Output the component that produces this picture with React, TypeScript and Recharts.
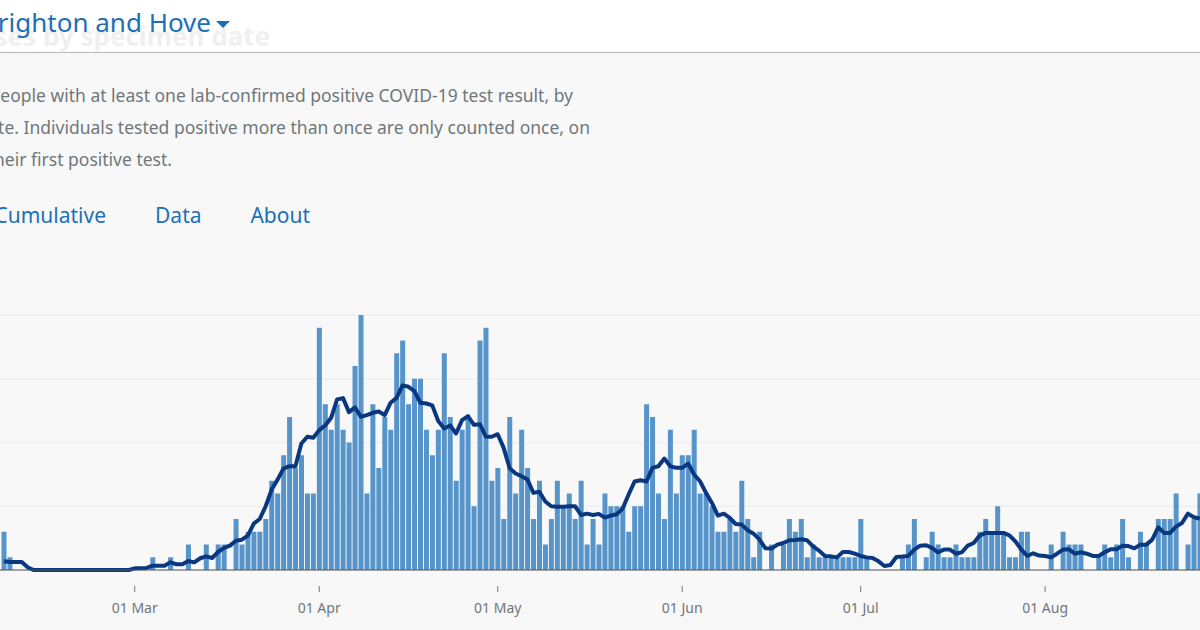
import { Bar, CartesianGrid, ComposedChart, Line, XAxis, YAxis } from "recharts";

// 6 Feb to 28 Aug 2020, one label per day
const monthNames = ["Feb", "Mar", "Apr", "May", "Jun", "Jul", "Aug"];
const monthLengths = [29, 31, 30, 31, 30, 31, 28];
const dayLabels: string[] = [];
monthNames.forEach((name, m) => {
  for (let day = m === 0 ? 6 : 1; day <= monthLengths[m]; day++) {
    dayLabels.push(`${String(day).padStart(2, "0")} ${name}`);
  }
});

const tickLabels = ["01 Mar", "01 Apr", "01 May", "01 Jun", "01 Jul", "01 Aug"];
const gridValues = [0, 5, 10, 15, 20];

const dailyCases = [
  null, null,
  // Feb
  3, 1, 0, 0, 0, 0, 0, 0, 0, 0, 0, 0, 0, 0, 0, 0, 0, 0, 0, 0, 0, 0,
  // Mar
  0, 0, 0, 1, 0, 0, 1, 0, 0, 2, 0, 0, 2, 0, 2, 2, 0, 4, 2, 3, 3, 3, 4, 7, 6, 9, 12, 8, 9, 6, 6,
  // Apr
  19, 13, 11, 13, 11, 10, 16, 20, 6, 13, 8, 12, 11, 17, 18, 13, 15, 15, 11, 9, 11, 17, 12, 7, 11, 12, 5, 18, 19, 7,
  // May
  8, 4, 12, 6, 11, 8, 4, 7, 2, 4, 7, 5, 6, 4, 7, 2, 4, 2, 6, 5, 5, 5, 3, 5, 5, 13, 12, 6, 4, 11, 6,
  // Jun
  9, 9, 11, 6, 6, 5, 3, 3, 4, 3, 7, 4, 1, 3, 0, 2, 0, 2, 4, 3, 4, 1, 2, 1, 1, 1, 1, 1, 1, 1,
  // Jul
  4, 1, 0, 0, 0, 0, 0, 1, 2, 4, 0, 1, 3, 2, 1, 1, 2, 1, 1, 1, 3, 4, 3, 5, 3, 1, 1, 3, 3, 0, 0,
  // Aug
  0, 2, 0, 3, 2, 2, 2, 0, 0, 1, 2, 1, 2, 4, 1, 0, 3, 2, 0, 4, 4, 4, 6, 0, 2, 4, 6,
  null,
];

const rollingAverage = [
  null, null,
  // Feb
  0.68, 0.63, 0.63, 0.63, 0.21, 0, 0, 0, 0, 0, 0, 0, 0, 0, 0, 0, 0, 0, 0, 0, 0, 0,
  // Mar
  0.13, 0.13, 0.16, 0.34, 0.34, 0.34, 0.6, 0.45, 0.45, 0.71, 0.6, 0.92, 1.07, 0.94, 1.41, 1.73, 1.91, 2.3, 2.38, 2.7,
  3.64, 4.0, 5.0, 6.31, 7.09, 7.96, 8.14, 8.14, 9.92, 10.45, 10.37,
  // Apr
  10.97, 11.34, 11.94, 13.38, 13.48, 12.38, 12.75, 12.02, 12.15, 12.33, 12.43, 12.15, 13.12, 13.5, 14.48, 14.37,
  14.03, 13.12, 13.06, 12.91, 11.68, 11.1, 11.34, 10.71, 11.75, 12.07, 11.39, 11.44, 10.45, 10.45,
  // May
  10.65, 9.58, 7.98, 7.57, 7.36, 7.09, 6.05, 6.13, 5.37, 5, 4.97, 4.97, 5, 5, 4.32, 4.42, 4.32, 4.4, 4.11, 4.27, 4.37,
  4.82, 5.92, 6.94, 7.04, 6.94, 8.01, 8.14, 8.74, 8.14, 8.01,
  // Jun
  8.01, 8.35, 7.49, 6.96, 6.05, 5.26, 4.27, 4.42, 4.08, 3.61, 3.56, 3.12, 2.85, 2.38, 1.7, 1.68, 1.99, 2.12, 2.33,
  2.36, 2.41, 2.33, 1.86, 1.52, 1.1, 1.07, 0.99, 1.41, 1.41, 1.28,
  // Jul
  1.1, 0.99, 0.94, 0.68, 0.31, 0.39, 1.02, 1.05, 1.1, 1.6, 1.91, 1.94, 1.73, 1.39, 1.6, 1.6, 1.28, 1.39, 1.91, 2.12,
  2.7, 2.91, 2.91, 2.91, 2.91, 2.72, 2.25, 1.6, 1.1, 1.31, 1.13,
  // Aug
  1.1, 0.99, 1.28, 1.6, 1.62, 1.28, 1.39, 1.28, 1.1, 1.1, 1.39, 1.62, 1.62, 1.91, 1.88, 1.7, 1.99, 1.99, 2.38, 3.35,
  2.91, 2.91, 3.4, 3.69, 4.42, 4.14, 4.03,
  null,
];

const chartData = dayLabels.map((day, i) => ({
  day,
  cases: dailyCases[i],
  average: rollingAverage[i],
}));

const FONT = "'Noto Sans', sans-serif";
const BLUE = "#1d70b8";
const GREY = "#6f777b";

const DateTick = ({ x, y, payload }: any) => (
  <g>
    <line x1={x} x2={x} y1={y + 16} y2={y + 22} stroke="#777777" strokeWidth={1} />
    <text x={x} y={y + 43} textAnchor="middle" fontSize={14} fill={GREY} fontFamily={FONT}>
      {payload.value}
    </text>
  </g>
);

const textAt = (top: number, right: number, size: number, color: string) =>
  ({
    position: "absolute",
    top,
    right: 1200 - right,
    fontSize: size,
    color,
    whiteSpace: "nowrap",
    lineHeight: 1,
  }) as const;

export default function App() {
  return (
    <div
      style={{
        position: "absolute",
        left: 0,
        top: 0,
        width: 1200,
        height: 630,
        overflow: "hidden",
        background: "#f8f8f8",
        fontFamily: FONT,
      }}
    >
      <div style={{ position: "absolute", left: 0, top: 0, width: 1200, height: 52, background: "#ffffff", borderBottom: "1px solid #b9b9b9" }} />
      <div style={{ ...textAt(23, 270, 26, "#f0f0f0"), fontWeight: 700 }}>Cases by specimen date</div>
      <div style={textAt(9, 211, 26, BLUE)}>Brighton and Hove</div>
      <svg style={{ position: "absolute", left: 216, top: 21, width: 14, height: 7 }}>
        <polygon points="0,0 14,0 7,7" fill={BLUE} />
      </svg>

      <div style={textAt(87, 573, 17.5, GREY)}>People with at least one lab-confirmed positive COVID-19 test result, by</div>
      <div style={textAt(119, 590, 17.5, GREY)}>date. Individuals tested positive more than once are only counted once, on</div>
      <div style={textAt(151, 172, 17.5, GREY)}>their first positive test.</div>

      <div style={textAt(205, 106, 21, BLUE)}>Cumulative</div>
      <div style={textAt(205, 201.5, 21, BLUE)}>Data</div>
      <div style={textAt(205, 310, 21, BLUE)}>About</div>

      <div style={{ position: "absolute", left: -10.8, top: 300 }}>
        <ComposedChart
          width={1219.75}
          height={330}
          data={chartData}
          margin={{ top: 15, right: 0, bottom: 0, left: 0 }}
          barCategoryGap={0.6}
        >
          <CartesianGrid vertical={false} stroke="#eeeeee" strokeWidth={1.5} />
          <XAxis
            dataKey="day"
            ticks={tickLabels}
            interval={0}
            height={60}
            tick={DateTick}
            tickLine={false}
            tickSize={0}
            tickMargin={0}
            axisLine={{ stroke: "#555555", strokeWidth: 1 }}
          />
          <YAxis hide domain={[0, 20]} ticks={gridValues} />
          <Bar dataKey="cases" fill="#5694ca" isAnimationActive={false} />
          <Line
            type="linear"
            dataKey="average"
            stroke="#0a3880"
            strokeWidth={4}
            strokeLinejoin="round"
            dot={false}
            activeDot={false}
            isAnimationActive={false}
          />
        </ComposedChart>
      </div>
    </div>
  );
}
